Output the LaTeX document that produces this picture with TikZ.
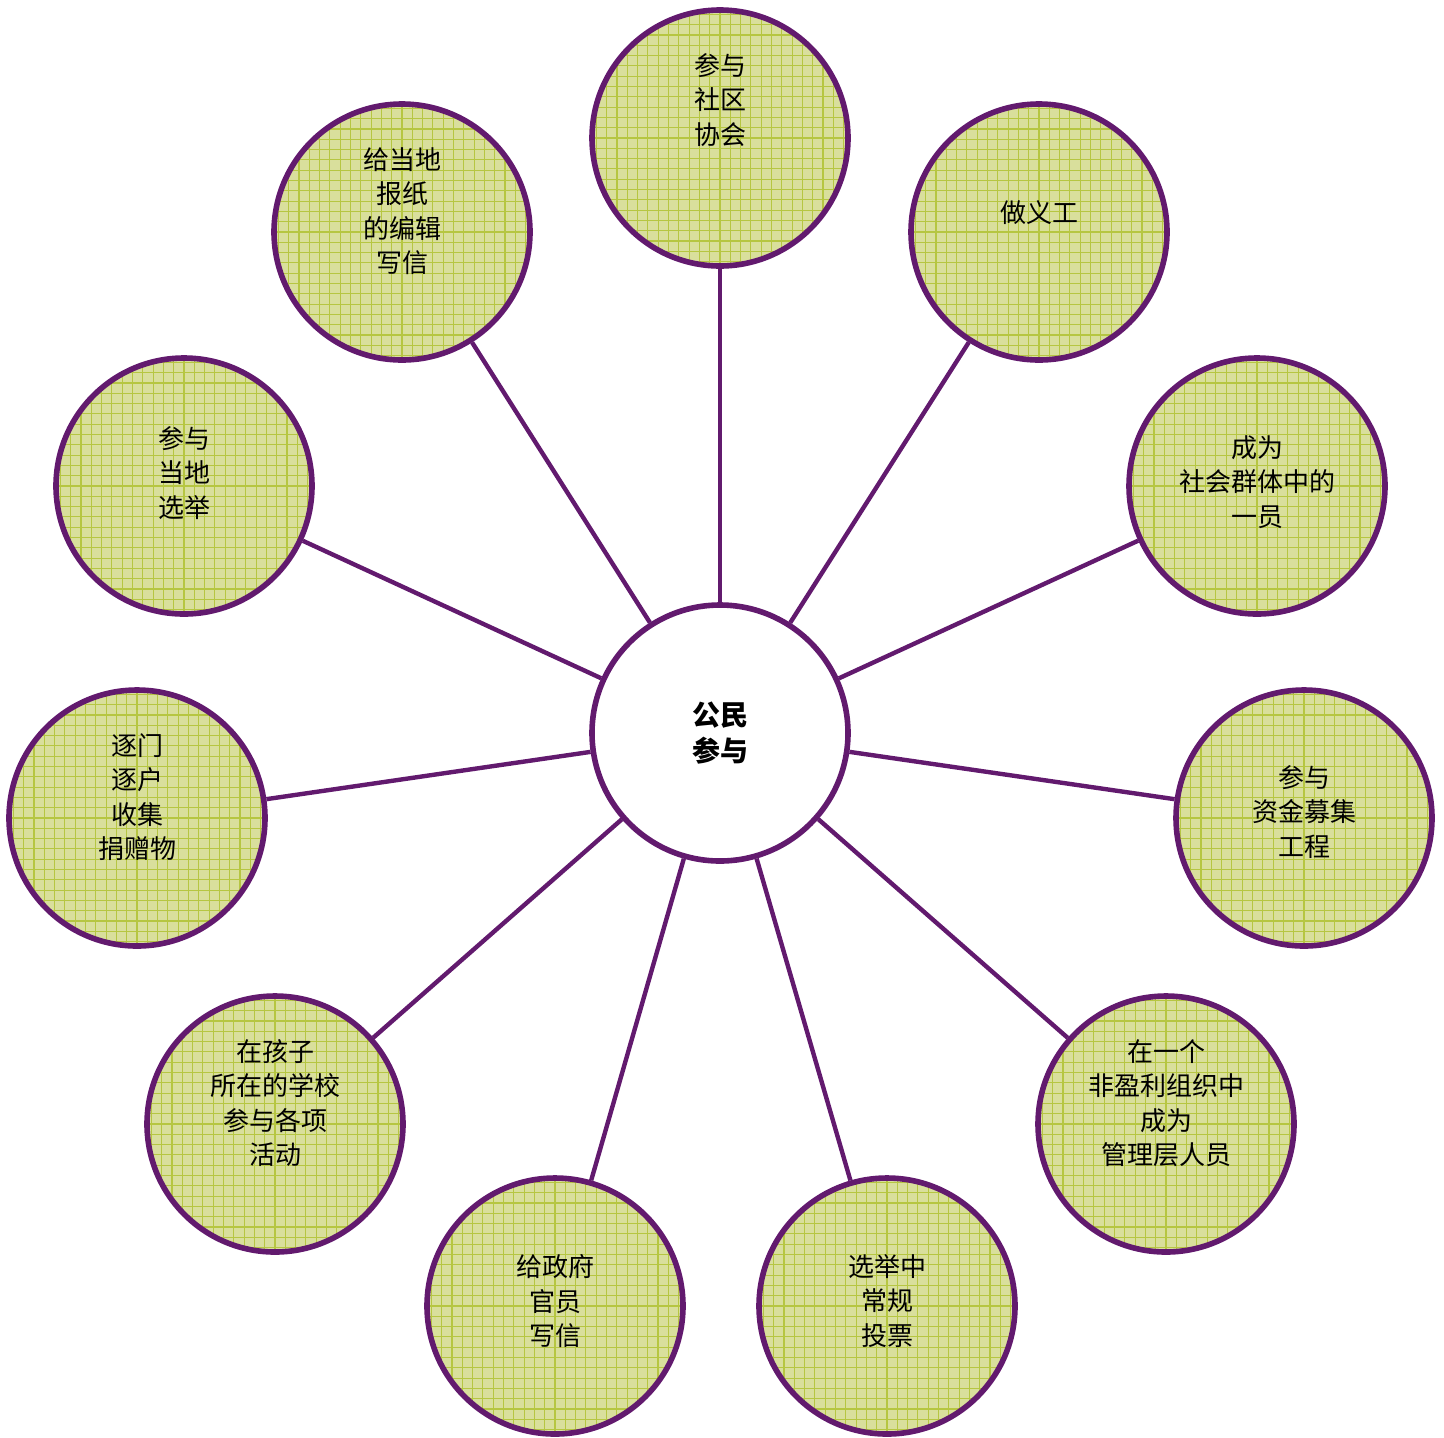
\documentclass[tikz,border=0pt]{standalone}
\usepackage{fontspec}
\newfontfamily\cjk{Noto Sans CJK SC}
\definecolor{rim}{HTML}{621A6E}
\definecolor{leaf}{HTML}{D9DF9C}
\definecolor{gridc}{HTML}{B6C642}
\begin{document}
\begin{tikzpicture}[x=0.5pt,y=-0.5pt,
  hub/.style={circle,draw=rim,line width=2.8pt,fill=white,minimum size=128pt,inner sep=0pt},
  bubble/.style={circle,draw=rim,line width=2.8pt,fill=leaf,minimum size=128pt,inner sep=0pt,
    path picture={\draw[gridc,line width=0.55pt,step=5.15pt] (path picture bounding box.south west) grid (path picture bounding box.north east);}},
  label/.style={align=center,inner sep=0pt,font=\cjk\fontsize{13}{17.2}\selectfont},
  hublabel/.style={align=center,inner sep=0pt,font=\cjk\bfseries\fontsize{14}{17.6}\selectfont},
  link/.style={draw=rim,line width=2.2pt}]
\useasboundingbox (0,0) rectangle (1444,1437);
\node[hub] (c) at (720,733) {};
\node[bubble] (n1) at (720,138) {};
\node[bubble] (n2) at (1039,232) {};
\node[bubble] (n3) at (1257,486) {};
\node[bubble] (n4) at (1304,818) {};
\node[bubble] (n5) at (1166,1124) {};
\node[bubble] (n6) at (887,1306) {};
\node[bubble] (n7) at (555,1306) {};
\node[bubble] (n8) at (275,1124) {};
\node[bubble] (n9) at (137,818) {};
\node[bubble] (n10) at (184,486) {};
\node[bubble] (n11) at (402,232) {};
\foreach \i in {1,...,11} \path[link] (c) -- (n\i);
\node[hublabel] (tc) at (720,733) {公民\\参与};
\node[label] (t1) at (720,100) {参与\\社区\\协会};
\node[label] (t2) at (1039,213) {做义工};
\node[label] (t3) at (1257,482) {成为\\社会群体中的\\一员};
\node[label] (t4) at (1304,812) {参与\\资金募集\\工程};
\node[label] (t5) at (1166,1103) {在一个\\非盈利组织中\\成为\\管理层人员};
\node[label] (t6) at (887,1301) {选举中\\常规\\投票};
\node[label] (t7) at (555,1301) {给政府\\官员\\写信};
\node[label] (t8) at (275,1103) {在孩子\\所在的学校\\参与各项\\活动};
\node[label] (t9) at (137,797) {逐门\\逐户\\收集\\捐赠物};
\node[label] (t10) at (184,473) {参与\\当地\\选举};
\node[label] (t11) at (402,211) {给当地\\报纸\\的编辑\\写信};
\end{tikzpicture}
\end{document}
